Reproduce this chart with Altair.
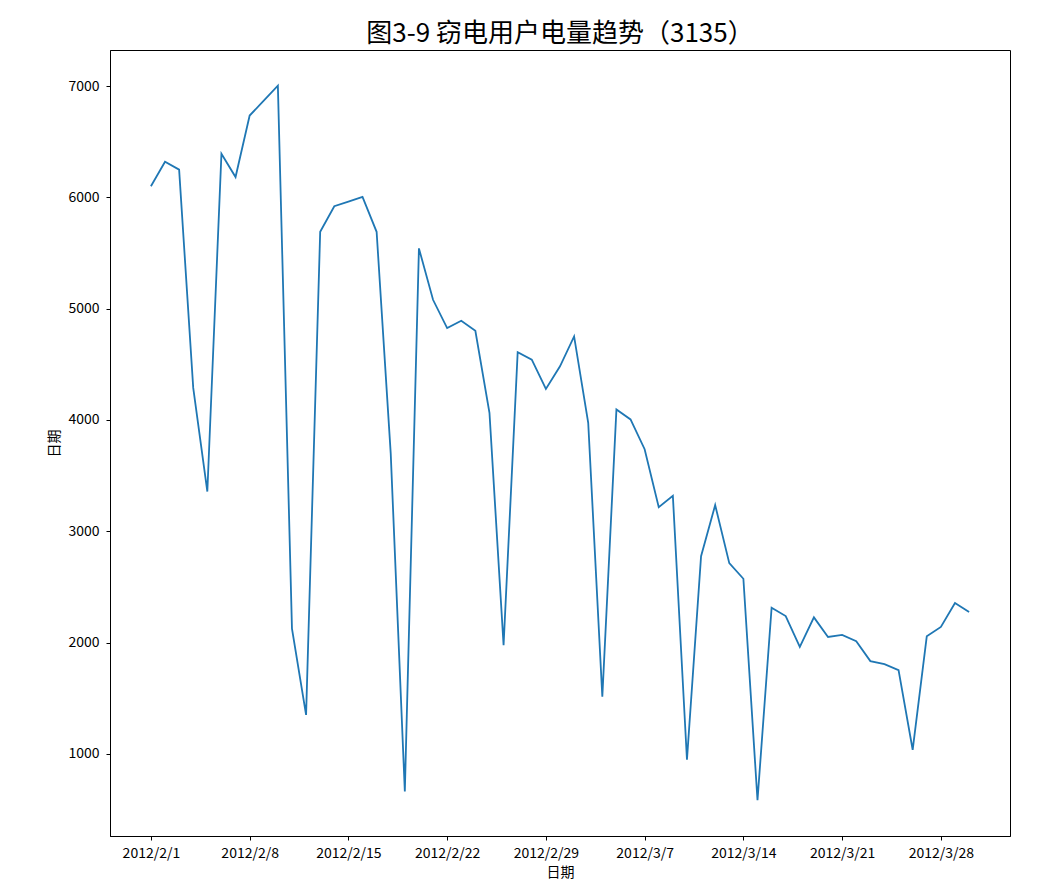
import altair as alt
import pandas as pd

title_text = "图3-9 窃电用户电量趋势（3135）"
start_date = "2012-02-01"
end_date = "2012-03-30"
power = [
    6100, 6320, 6250, 4288, 3357, 6392, 6183, 6736, 6870, 7004,
    2125, 1349, 5691, 5921, 5962, 6004, 5691, 3700, 662, 5542,
    5080, 4826, 4892, 4802, 4065, 1976, 4608, 4542, 4279, 4482,
    4751, 3975, 1513, 4095, 4005, 3737, 3217, 3319, 946, 2775,
    3235, 2713, 2573, 582, 2313, 2238, 1961, 2226, 2050, 2068,
    2012, 1833, 1806, 1752, 1036, 2056, 2140, 2355, 2274,
]
tick_dates = [(2, 1), (2, 8), (2, 15), (2, 22), (2, 29), (3, 7), (3, 14), (3, 21), (3, 28)]
y_ticks = [1000, 2000, 3000, 4000, 5000, 6000, 7000]
y_domain = [261, 7325]

dates = pd.date_range(start_date, end_date, freq="D").strftime("%Y-%m-%d").tolist()
df = pd.DataFrame({"date": dates, "power": power})

font = "Noto Sans CJK SC"

x_axis = alt.Axis(
    values=[alt.DateTime(year=2012, month=m, date=d, utc=True) for m, d in tick_dates],
    labelExpr="utcFormat(datum.value, '%Y/%-m/%-d')",
    grid=False,
    labelFont=font,
    labelFontSize=14,
    labelColor="black",
    labelPadding=6,
    tickColor="black",
    tickSize=4,
    domainColor="black",
    title="日期",
    titleFont=font,
    titleFontSize=14,
    titleFontWeight="normal",
    titleColor="black",
    titlePadding=5,
    labelFlush=False,
)

y_axis = alt.Axis(
    values=y_ticks,
    format="d",
    grid=False,
    labelFont=font,
    labelFontSize=14,
    labelColor="black",
    labelPadding=7,
    tickColor="black",
    tickSize=4,
    domainColor="black",
    title="日期",
    titleFont=font,
    titleFontSize=14,
    titleFontWeight="normal",
    titleColor="black",
    titlePadding=6,
    labelFlush=False,
)

chart = (
    alt.Chart(df)
    .mark_line(color="#1f77b4", strokeWidth=1.8)
    .encode(
        x=alt.X(
            "date:T",
            scale=alt.Scale(
                type="utc",
                domain=[
                    alt.DateTime(year=2012, month=1, date=29, hours=2, minutes=24, utc=True),
                    alt.DateTime(year=2012, month=4, date=1, hours=21, minutes=36, utc=True),
                ],
            ),
            axis=x_axis,
        ),
        y=alt.Y(
            "power:Q",
            scale=alt.Scale(domain=y_domain, nice=False, zero=False),
            axis=y_axis,
        ),
    )
    .properties(
        width=900,
        height=786,
        title=alt.TitleParams(
            text=title_text,
            font=font,
            fontSize=26,
            fontWeight="normal",
            color="black",
            anchor="middle",
            offset=3,
        ),
        autosize=alt.AutoSizeParams(type="none"),
        padding={"left": 102, "top": 42, "right": 20, "bottom": 50},
    )
    .configure_view(stroke="black", strokeWidth=1)
)

chart.save("out.html", embed_options={"renderer": "svg", "actions": False})
